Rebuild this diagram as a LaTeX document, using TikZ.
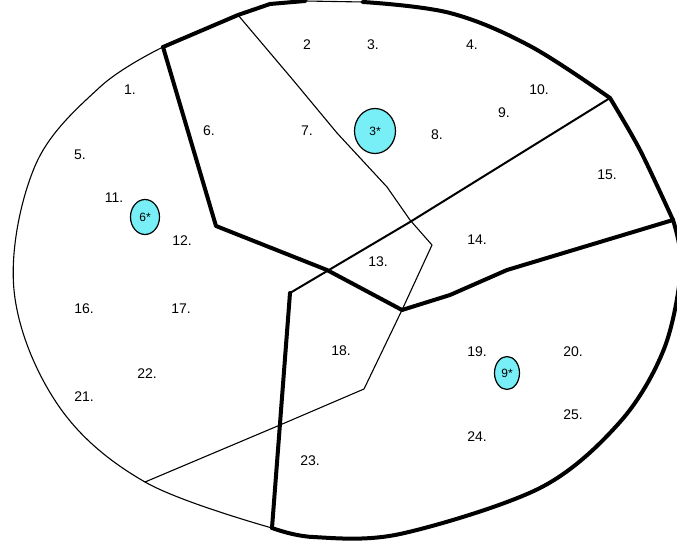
\documentclass[tikz,border=0pt]{standalone}
\usepackage{fontspec}
\setmainfont{Liberation Sans}
\usetikzlibrary{shapes.geometric}
\definecolor{mcyan}{RGB}{120,238,246}
\begin{document}
\begin{tikzpicture}[x=1pt,y=-1pt,
  lbl/.style={font=\fontsize{14}{14}\selectfont, inner sep=0pt},
  thickline/.style={line width=4pt, line join=round, line cap=round},
  medline/.style={line width=2pt, line join=round, line cap=round},
  thinline/.style={line width=1.1pt, line join=round, line cap=round},
  marker/.style={ellipse, draw, line width=1.2pt, fill=mcyan, inner sep=0pt, font=\fontsize{12}{12}\selectfont}]
\useasboundingbox (0,0) rectangle (677,545);
\clip (0,0) rectangle (677,545);
% key vertices
\coordinate (A) at (163,47);
\coordinate (B) at (238,15);
\coordinate (C) at (610,98);
\coordinate (D) at (673,220);
\coordinate (E) at (402,310);
\coordinate (F) at (290,293);
\coordinate (G) at (272,528);
\coordinate (H) at (145,482);
\coordinate (K) at (216,226);
% outer boundary: thin left arc
\draw[thinline] plot[smooth, tension=0.6] coordinates {(G) (H) (58,405) (14,290) (35,166) (100,87) (A)};
% outer boundary: thick top and right
\draw[thickline] (A) -- (B) -- (270,4) -- (305,1);
\draw[thinline] (305,1) -- (363,2);
\draw[thickline] plot[smooth, tension=0.6] coordinates {(363,2) (450,13) (530,46) (C)};
\draw[thickline] plot[smooth, tension=0.5] coordinates {(C) (640,150) (D)};
\draw[thickline] plot[smooth, tension=0.55] coordinates {(D) (681,268) (664,349) (620,422) (540,488) (400,534) (313,537) (G)};
% inner thick borders
\draw[thickline] (A) -- (K) -- (327,270) -- (E);
\draw[thickline] (E) -- (450,295) -- (507,270) -- (D);
\draw[thickline] (F) -- (G);
\draw[medline] (C) -- (410,222) -- (F);
% thin dividing line
\draw[thinline] (B) -- (293,80) -- (337,133) -- (387,187) -- (410,220) -- (432,245) -- (E) -- (364,389) -- (280,425) -- (H);
% labels
\node[lbl] (l1) at (130,90) {1.};
\node[lbl] (l2) at (307,45) {2};
\node[lbl] (l3) at (373,45) {3.};
\node[lbl] (l4) at (472,45) {4.};
\node[lbl] (l5) at (80,155) {5.};
\node[lbl] (l6) at (209,131) {6.};
\node[lbl] (l7) at (307,131) {7.};
\node[lbl] (l8) at (437,135) {8.};
\node[lbl] (l9) at (504,113) {9.};
\node[lbl] (l10) at (539,90) {10.};
\node[lbl] (l11) at (114,198) {11.};
\node[lbl] (l12) at (182,241) {12.};
\node[lbl] (l13) at (378,262) {13.};
\node[lbl] (l14) at (477,240) {14.};
\node[lbl] (l15) at (607,175) {15.};
\node[lbl] (l16) at (84,309) {16.};
\node[lbl] (l17) at (181,309) {17.};
\node[lbl] (l18) at (341,351) {18.};
\node[lbl] (l19) at (477,352) {19.};
\node[lbl] (l20) at (573,352) {20.};
\node[lbl] (l21) at (84,397) {21.};
\node[lbl] (l22) at (147,374) {22.};
\node[lbl] (l23) at (310,461) {23.};
\node[lbl] (l24) at (477,437) {24.};
\node[lbl] (l25) at (573,415) {25.};
% cyan markers
\node[marker, minimum width=29pt, minimum height=35pt] (m6) at (145,217) {6*};
\node[marker, minimum width=41pt, minimum height=45pt] (m3) at (375,131) {3*};
\node[marker, minimum width=25pt, minimum height=33pt] (m9) at (507,373) {9*};
\end{tikzpicture}
\end{document}
